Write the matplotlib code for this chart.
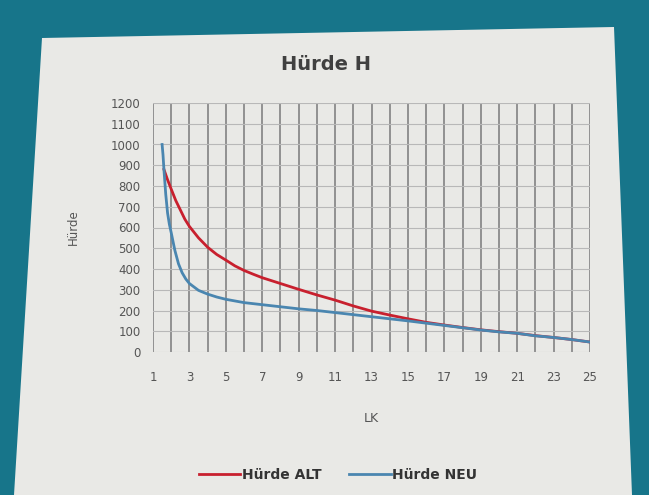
import matplotlib.pyplot as plt
from matplotlib.patches import Polygon
from matplotlib.ticker import MultipleLocator

# data
lk_alt = [1.6, 1.8, 2, 2.25, 2.5, 2.75, 3, 3.5, 4, 4.5, 5, 5.5, 6, 6.5, 7,
          8, 9, 10, 11, 12, 13, 14, 15, 16, 17, 18, 19, 20, 21, 22, 23, 24,
          25]
huerde_alt = [880, 830, 785, 730, 685, 640, 605, 550, 505, 470, 443, 415,
              393, 375, 358, 330, 302, 275, 250, 222, 197, 178, 160, 143,
              130, 118, 107, 98, 90, 79, 70, 60, 48]

lk_neu = [1.5, 1.55, 1.6, 1.7, 1.8, 1.9, 2, 2.2, 2.4, 2.6, 2.8, 3, 3.5, 4,
          4.5, 5, 6, 7, 8, 9, 10, 11, 12, 13, 14, 15, 16, 17, 18, 19, 20,
          21, 22, 23, 24, 25]
huerde_neu = [1000, 950, 880, 760, 670, 615, 575, 490, 425, 382, 352, 330,
              297, 279, 265, 254, 238, 228, 218, 208, 200, 190, 180, 170,
              160, 150, 139, 128, 117, 106, 97, 90, 78, 70, 60, 48]

x_ticks = list(range(1, 26, 2))
y_ticks = list(range(0, 1201, 100))

fig = plt.figure(figsize=(6.49, 4.95), dpi=100)
fig.patch.set_facecolor('#17758a')

# the sheet of paper in the photo
W, H = 649, 495
corners = [(42, 38), (614, 27), (632, 495), (14, 495)]
paper = Polygon([(x / W, 1 - y / H) for x, y in corners], closed=True,
                transform=fig.transFigure, facecolor='#e9e9e6',
                edgecolor='none', zorder=-10)
fig.patches.append(paper)

ax = fig.add_axes([153 / W, 1 - 352 / H, (590 - 153) / W, (352 - 103) / H])
ax.set_facecolor('none')

ax.plot(lk_alt, huerde_alt, color='#c8202e', lw=2, label='Hürde ALT',
        zorder=3)
ax.plot(lk_neu, huerde_neu, color='#4a86b0', lw=2, label='Hürde NEU',
        zorder=4)

ax.set_xlim(1, 25)
ax.set_ylim(0, 1200)
ax.set_xticks(x_ticks)
ax.set_yticks(y_ticks)
ax.xaxis.set_minor_locator(MultipleLocator(1))
ax.grid(axis='x', which='both', color='#7a7a7a', lw=1.1)
ax.grid(axis='y', which='major', color='#b8b8b8', lw=0.8)
ax.tick_params(which='both', length=0, labelsize=8.5, colors='#555555')
ax.tick_params(axis='x', pad=14)
ax.tick_params(axis='y', pad=9)
for s in ax.spines.values():
    s.set_visible(False)

fig.text(326 / W, 1 - 65 / H, 'Hürde H', fontsize=14, fontweight='bold',
         color='#404040', ha='center', va='center')
ax.set_xlabel('LK', fontsize=9, color='#555555', labelpad=20)
ax.set_ylabel('Hürde', fontsize=8.5, color='#555555', labelpad=22)

leg = fig.legend(loc='center', bbox_to_anchor=(338 / W, 1 - 475 / H), ncol=2,
                 frameon=False, fontsize=10, handlelength=3,
                 handletextpad=0.1, columnspacing=2)
for t in leg.get_texts():
    t.set_color('#333333')
    t.set_fontweight('bold')

fig.savefig('out.png', dpi=100, facecolor=fig.get_facecolor())
